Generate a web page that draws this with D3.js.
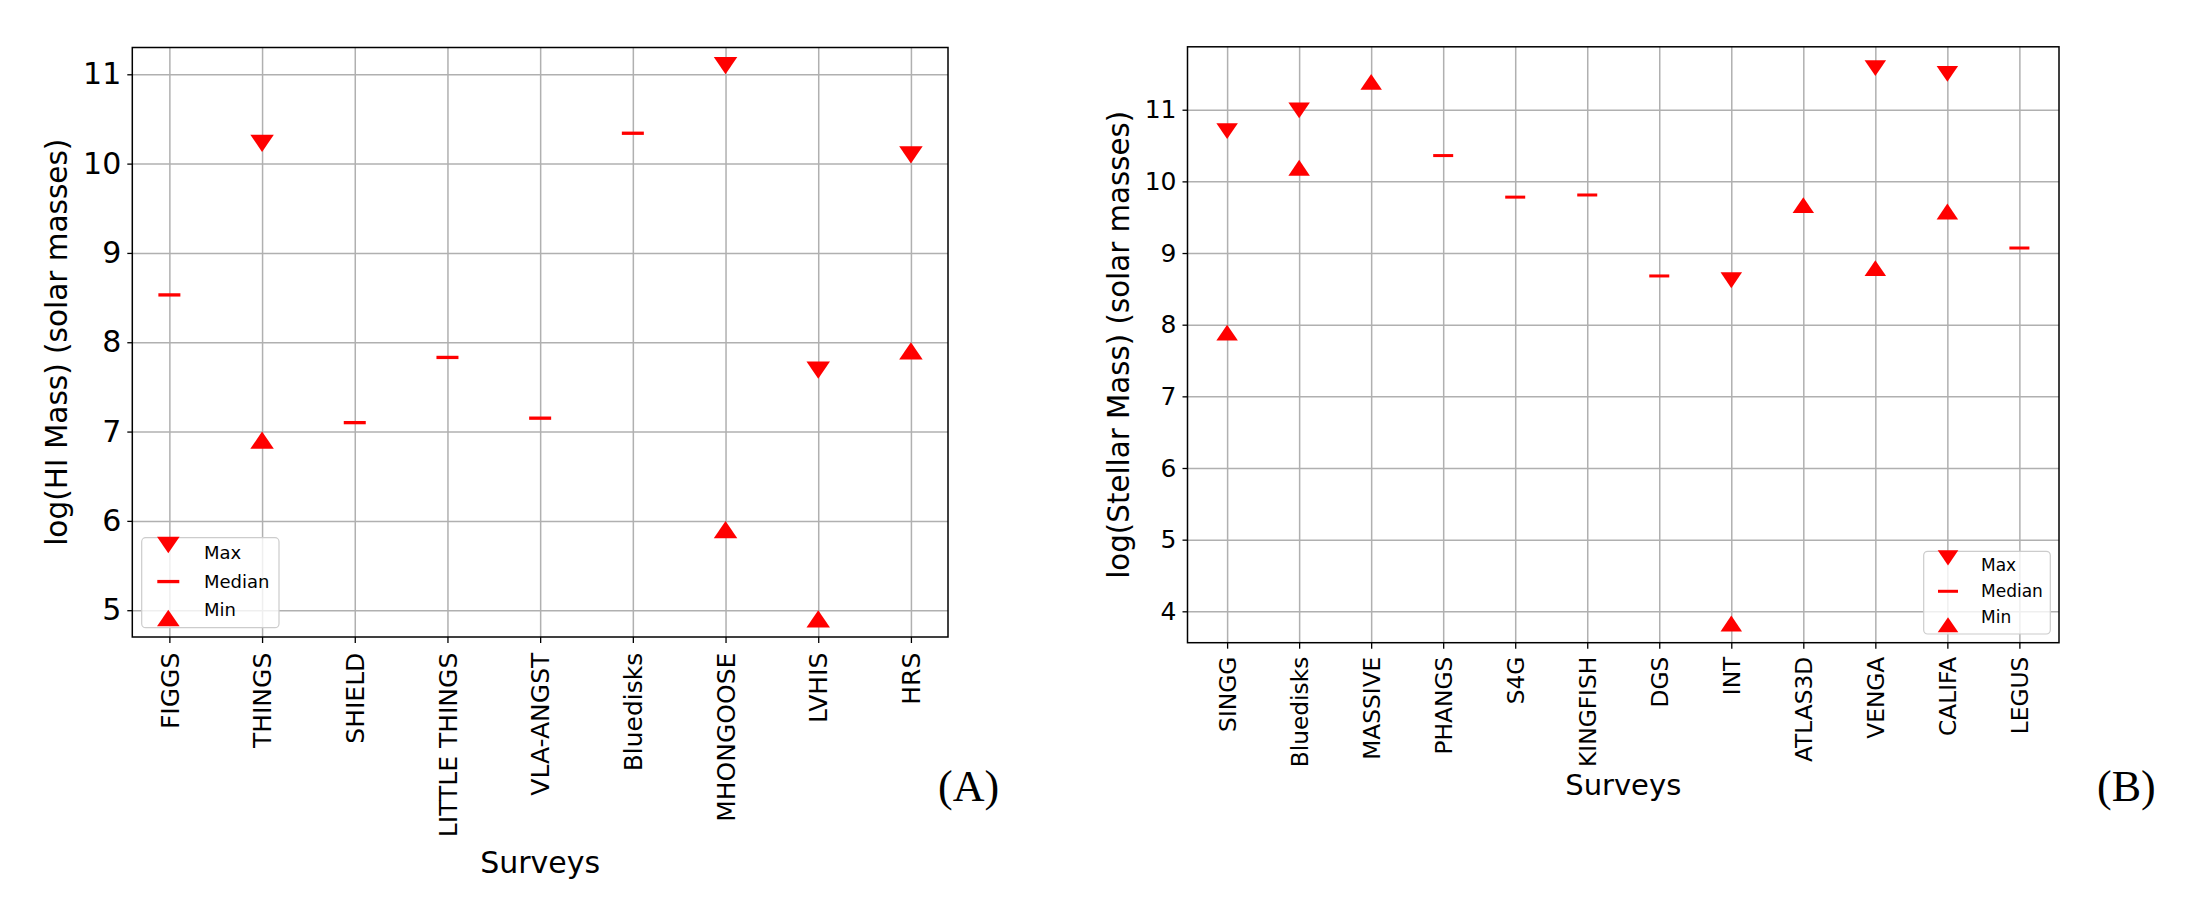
<!DOCTYPE html>
<html>
<head>
<meta charset="utf-8">
<script src="https://cdn.jsdelivr.net/npm/d3@7/dist/d3.min.js"></script>
<style>
  body { margin: 0; background: #fff; }
</style>
</head>
<body>
<div class="chart"></div>
<script>

// panel A: HI mass per survey
const hiSurveys = ['FIGGS', 'THINGS', 'SHIELD', 'LITTLE THINGS', 'VLA-ANGST', 'Bluedisks', 'MHONGOOSE', 'LVHIS', 'HRS'];
const hiMax    = [null, 10.13, null, null, null, null, 11.0, 7.59, 10.0];
const hiMedian = [8.53, null, 7.10, 7.83, 7.15, 10.34, null, null, null];
const hiMin    = [null, 7.0, null, null, null, null, 6.0, 5.0, 8.0];
const hiTicks  = [5, 6, 7, 8, 9, 10, 11];

// panel B: stellar mass per survey
const stellarSurveys = ['SINGG', 'Bluedisks', 'MASSIVE', 'PHANGS', 'S4G', 'KINGFISH', 'DGS', 'INT', 'ATLAS3D', 'VENGA', 'CALIFA', 'LEGUS'];
const stellarMax    = [10.59, 10.88, null, null, null, null, null, 8.51, null, 11.47, 11.39, null];
const stellarMedian = [null, null, null, 10.36, 9.78, 9.81, 8.68, null, null, null, null, 9.07];
const stellarMin    = [8.0, 10.30, 11.5, null, null, null, null, 3.94, 9.78, 8.90, 9.69, null];
const stellarTicks  = [4, 5, 6, 7, 8, 9, 10, 11];

const legendLabels = ['Max', 'Median', 'Min'];

const W = 2206, H = 900;
const red = '#ff0000';

const svg = d3.select('.chart')
    .append('svg')
    .attr('width', W)
    .attr('height', H)
    .style('font-family', 'DejaVu Sans, sans-serif');

const panels = [
    {
        surveys: hiSurveys, max: hiMax, median: hiMedian, min: hiMin, ticks: hiTicks,
        yLabel: 'log(HI Mass) (solar masses)', tag: '(A)',
        left: 132.3, right: 948, top: 47.5, bottom: 637,
        tickFont: 30, catFont: 25, yLabelFont: 29.5, xLabelFont: 30,
        yLabelX: 67, xLabelY: 873, catGap: 15.7, tagX: 938, tagY: 801,
        mw: 23.5, mh: 17.3, medW: 22, medH: 3.3,
        legend: {x: 141.7, y: 537.7, w: 137.3, h: 90, markX: 168.3, textX: 204, font: 18, first: 21.6, step: 28.2}
    },
    {
        surveys: stellarSurveys, max: stellarMax, median: stellarMedian, min: stellarMin, ticks: stellarTicks,
        yLabel: 'log(Stellar Mass) (solar masses)', tag: '(B)',
        left: 1187.5, right: 2059, top: 46.8, bottom: 642.7,
        tickFont: 25, catFont: 23.3, yLabelFont: 29.3, xLabelFont: 29,
        yLabelX: 1129, xLabelY: 795, catGap: 14, tagX: 2097, tagY: 801,
        mw: 21.5, mh: 15.8, medW: 20, medH: 3,
        legend: {x: 1923.7, y: 551.3, w: 126.6, h: 82.7, markX: 1948, textX: 1981, font: 17, first: 19.7, step: 25.9}
    }
];

// caret centred at its tip, like matplotlib markers 6 / 7
function caret(w, h, down) {
    const s = down ? -1 : 1;
    return `M${-w / 2},${s * h}L${w / 2},${s * h}L0,0Z`;
}

panels.forEach(p => {
    const g = svg.append('g');
    const n = p.surveys.length;

    // x scale: same 5% margin matplotlib puts round categorical points
    const xScale = d3.scalePoint()
        .domain(p.surveys)
        .range([p.left, p.right])
        .padding(0.05 * (n - 1));

    const all = [...p.max, ...p.median, ...p.min].filter(v => v != null);
    const [lo, hi] = d3.extent(all);
    const pad = (hi - lo) * 0.05;
    const yScale = d3.scaleLinear()
        .domain([lo - pad, hi + pad])
        .range([p.bottom, p.top]);

    // y axis + horizontal grid
    g.append('g')
        .attr('transform', `translate(${p.left},0)`)
        .call(d3.axisLeft(yScale).tickValues(p.ticks).tickFormat(d3.format('d')).tickSize(5).tickPadding(6))
        .attr('font-size', p.tickFont)
        .attr('font-family', 'DejaVu Sans, sans-serif')
        .call(a => a.select('.domain').remove())
        .call(a => a.selectAll('.tick line').attr('stroke', '#000').attr('stroke-width', 1.3))
        .call(a => a.selectAll('.tick text').attr('fill', '#000'))
        .selectAll('.tick line')
        .clone()
        .attr('x1', 0)
        .attr('x2', p.right - p.left)
        .attr('stroke', '#b0b0b0')
        .attr('stroke-width', 1.5);

    // x axis + vertical grid
    g.append('g')
        .attr('transform', `translate(0,${p.bottom})`)
        .call(d3.axisBottom(xScale).tickSize(6))
        .attr('font-size', p.catFont)
        .attr('font-family', 'DejaVu Sans, sans-serif')
        .call(a => a.select('.domain').remove())
        .call(a => a.selectAll('.tick line').attr('stroke', '#000').attr('stroke-width', 1.3))
        .call(a => a.selectAll('.tick text')
            .attr('fill', '#000')
            .attr('transform', 'rotate(-90)')
            .attr('text-anchor', 'end')
            .attr('x', -p.catGap)
            .attr('y', 0)
            .attr('dy', '0.35em'))
        .selectAll('.tick line')
        .clone()
        .attr('y1', 0)
        .attr('y2', p.top - p.bottom)
        .attr('stroke', '#b0b0b0')
        .attr('stroke-width', 1.5);

    // frame
    g.append('rect')
        .attr('x', p.left)
        .attr('y', p.top)
        .attr('width', p.right - p.left)
        .attr('height', p.bottom - p.top)
        .attr('fill', 'none')
        .attr('stroke', '#000')
        .attr('stroke-width', 1.5);

    // markers
    const rows = p.surveys.map((s, i) => ({s, max: p.max[i], median: p.median[i], min: p.min[i]}));

    g.selectAll('.max')
        .data(rows.filter(d => d.max != null))
        .join('path')
        .attr('class', 'max')
        .attr('transform', d => `translate(${xScale(d.s)},${yScale(d.max)})`)
        .attr('d', caret(p.mw, p.mh, true))
        .attr('fill', red);

    g.selectAll('.min')
        .data(rows.filter(d => d.min != null))
        .join('path')
        .attr('class', 'min')
        .attr('transform', d => `translate(${xScale(d.s)},${yScale(d.min)})`)
        .attr('d', caret(p.mw, p.mh, false))
        .attr('fill', red);

    g.selectAll('.median')
        .data(rows.filter(d => d.median != null))
        .join('rect')
        .attr('class', 'median')
        .attr('x', d => xScale(d.s) - p.medW / 2)
        .attr('y', d => yScale(d.median) - p.medH / 2)
        .attr('width', p.medW)
        .attr('height', p.medH)
        .attr('fill', red);

    // legend
    const L = p.legend;
    g.append('rect')
        .attr('x', L.x)
        .attr('y', L.y)
        .attr('width', L.w)
        .attr('height', L.h)
        .attr('rx', 4)
        .attr('fill', '#fff')
        .attr('fill-opacity', 0.8)
        .attr('stroke', '#cccccc')
        .attr('stroke-width', 1.2);

    legendLabels.forEach((lab, i) => {
        const base = L.y + L.first + i * L.step;
        const cy = base - 0.33 * L.font;
        if (i === 1) {
            g.append('rect')
                .attr('x', L.markX - p.medW / 2)
                .attr('y', cy - p.medH / 2)
                .attr('width', p.medW)
                .attr('height', p.medH)
                .attr('fill', red);
        } else {
            g.append('path')
                .attr('transform', `translate(${L.markX},${cy})`)
                .attr('d', caret(p.mw * 0.96, p.mh * 0.96, i === 0))
                .attr('fill', red);
        }
        g.append('text')
            .attr('x', L.textX)
            .attr('y', base)
            .attr('font-size', L.font)
            .attr('fill', '#000')
            .text(lab);
    });

    // axis labels
    g.append('text')
        .attr('transform', `translate(${p.yLabelX},${(p.top + p.bottom) / 2}) rotate(-90)`)
        .attr('text-anchor', 'middle')
        .attr('font-size', p.yLabelFont)
        .text(p.yLabel);

    g.append('text')
        .attr('x', (p.left + p.right) / 2)
        .attr('y', p.xLabelY)
        .attr('text-anchor', 'middle')
        .attr('font-size', p.xLabelFont)
        .text('Surveys');

    g.append('text')
        .attr('x', p.tagX)
        .attr('y', p.tagY)
        .attr('font-family', 'Liberation Serif, Times New Roman, serif')
        .attr('font-size', 44)
        .text(p.tag);
});

</script>
</body>
</html>
